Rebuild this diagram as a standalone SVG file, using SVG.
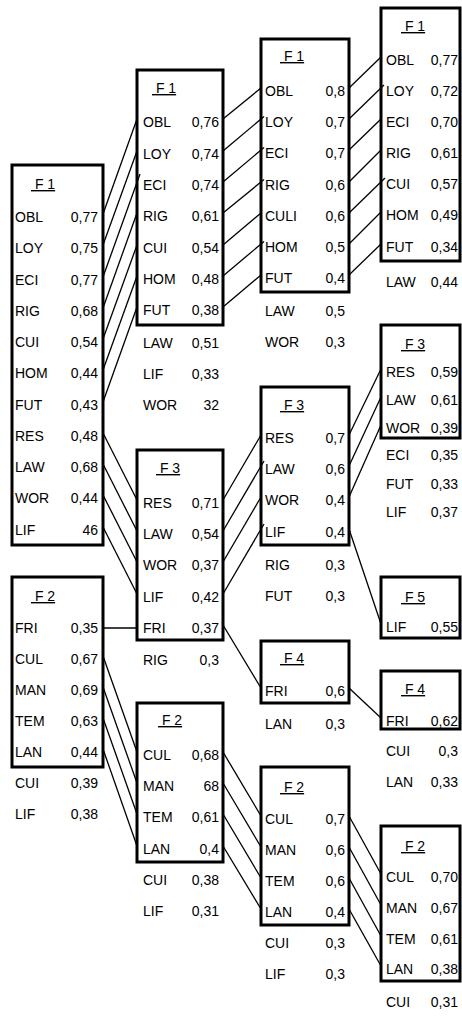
<svg xmlns="http://www.w3.org/2000/svg" width="462" height="1017" viewBox="0 0 462 1017">
<style>
.bg{fill:#fff}
.box{fill:none;stroke:#000;stroke-width:3}
text{font-family:"Liberation Sans",Arial,sans-serif;font-size:14px;fill:#000}
.v{text-anchor:end}
.ttl{text-decoration:underline;white-space:pre}
.conn line{stroke:#000;stroke-width:1.3}
</style>
<rect class="bg" x="0" y="0" width="462" height="1017"/>

<g id="c1-f1">
<rect class="box" x="12" y="165" width="91" height="380"/>
<text class="ttl" x="31" y="189"> F 1</text>
<text x="15" y="222">OBL</text><text class="v" x="98" y="222">0,77</text>
<text x="15" y="253">LOY</text><text class="v" x="98" y="253">0,75</text>
<text x="15" y="285">ECI</text><text class="v" x="98" y="285">0,77</text>
<text x="15" y="316">RIG</text><text class="v" x="98" y="316">0,68</text>
<text x="15" y="347">CUI</text><text class="v" x="98" y="347">0,54</text>
<text x="15" y="378">HOM</text><text class="v" x="98" y="378">0,44</text>
<text x="15" y="410">FUT</text><text class="v" x="98" y="410">0,43</text>
<text x="15" y="441">RES</text><text class="v" x="98" y="441">0,48</text>
<text x="15" y="472">LAW</text><text class="v" x="98" y="472">0,68</text>
<text x="15" y="503">WOR</text><text class="v" x="98" y="503">0,44</text>
<text x="15" y="535">LIF</text><text class="v" x="98" y="535">46</text>
</g>

<g id="c1-f2">
<rect class="box" x="12" y="577" width="91" height="190"/>
<text class="ttl" x="31" y="601"> F 2</text>
<text x="15" y="633">FRI</text><text class="v" x="98" y="633">0,35</text>
<text x="15" y="664">CUL</text><text class="v" x="98" y="664">0,67</text>
<text x="15" y="695">MAN</text><text class="v" x="98" y="695">0,69</text>
<text x="15" y="726">TEM</text><text class="v" x="98" y="726">0,63</text>
<text x="15" y="757">LAN</text><text class="v" x="98" y="757">0,44</text>
<text x="15" y="788">CUI</text><text class="v" x="98" y="788">0,39</text>
<text x="15" y="819">LIF</text><text class="v" x="98" y="819">0,38</text>
</g>

<g id="c2-f1">
<rect class="box" x="137" y="70" width="86" height="255"/>
<text class="ttl" x="152" y="93"> F 1</text>
<text x="143" y="127">OBL</text><text class="v" x="219" y="127">0,76</text>
<text x="143" y="159">LOY</text><text class="v" x="219" y="159">0,74</text>
<text x="143" y="190">ECI</text><text class="v" x="219" y="190">0,74</text>
<text x="143" y="221">RIG</text><text class="v" x="219" y="221">0,61</text>
<text x="143" y="253">CUI</text><text class="v" x="219" y="253">0,54</text>
<text x="143" y="284">HOM</text><text class="v" x="219" y="284">0,48</text>
<text x="143" y="315">FUT</text><text class="v" x="219" y="315">0,38</text>
<text x="143" y="348">LAW</text><text class="v" x="219" y="348">0,51</text>
<text x="143" y="379">LIF</text><text class="v" x="219" y="379">0,33</text>
<text x="143" y="410">WOR</text><text class="v" x="219" y="410">32</text>
</g>

<g id="c2-f3">
<rect class="box" x="137" y="450" width="86" height="190"/>
<text class="ttl" x="156" y="473"> F 3</text>
<text x="143" y="508">RES</text><text class="v" x="219" y="508">0,71</text>
<text x="143" y="539">LAW</text><text class="v" x="219" y="539">0,54</text>
<text x="143" y="570">WOR</text><text class="v" x="219" y="570">0,37</text>
<text x="143" y="602">LIF</text><text class="v" x="219" y="602">0,42</text>
<text x="143" y="633">FRI</text><text class="v" x="219" y="633">0,37</text>
<text x="143" y="665">RIG</text><text class="v" x="219" y="665">0,3</text>
</g>

<g id="c2-f2">
<rect class="box" x="137" y="703" width="86" height="159"/>
<text class="ttl" x="158" y="725"> F 2</text>
<text x="143" y="760">CUL</text><text class="v" x="219" y="760">0,68</text>
<text x="143" y="791">MAN</text><text class="v" x="219" y="791">68</text>
<text x="143" y="822">TEM</text><text class="v" x="219" y="822">0,61</text>
<text x="143" y="854">LAN</text><text class="v" x="219" y="854">0,4</text>
<text x="143" y="885">CUI</text><text class="v" x="219" y="885">0,38</text>
<text x="143" y="916">LIF</text><text class="v" x="219" y="916">0,31</text>
</g>

<g id="c3-f1">
<rect class="box" x="261" y="39" width="88" height="253"/>
<text class="ttl" x="280" y="61"> F 1</text>
<text x="265" y="96">OBL</text><text class="v" x="345" y="96">0,8</text>
<text x="265" y="127">LOY</text><text class="v" x="345" y="127">0,7</text>
<text x="265" y="158">ECI</text><text class="v" x="345" y="158">0,7</text>
<text x="265" y="190">RIG</text><text class="v" x="345" y="190">0,6</text>
<text x="265" y="221">CULI</text><text class="v" x="345" y="221">0,6</text>
<text x="265" y="252">HOM</text><text class="v" x="345" y="252">0,5</text>
<text x="265" y="283">FUT</text><text class="v" x="345" y="283">0,4</text>
<text x="265" y="316">LAW</text><text class="v" x="345" y="316">0,5</text>
<text x="265" y="347">WOR</text><text class="v" x="345" y="347">0,3</text>
</g>

<g id="c3-f3">
<rect class="box" x="261" y="387" width="88" height="158"/>
<text class="ttl" x="280" y="410"> F 3</text>
<text x="265" y="443">RES</text><text class="v" x="345" y="443">0,7</text>
<text x="265" y="474">LAW</text><text class="v" x="345" y="474">0,6</text>
<text x="265" y="505">WOR</text><text class="v" x="345" y="505">0,4</text>
<text x="265" y="537">LIF</text><text class="v" x="345" y="537">0,4</text>
<text x="265" y="570">RIG</text><text class="v" x="345" y="570">0,3</text>
<text x="265" y="601">FUT</text><text class="v" x="345" y="601">0,3</text>
</g>

<g id="c3-f4">
<rect class="box" x="261" y="641" width="88" height="62"/>
<text class="ttl" x="280" y="663"> F 4</text>
<text x="265" y="696">FRI</text><text class="v" x="345" y="696">0,6</text>
<text x="265" y="729">LAN</text><text class="v" x="345" y="729">0,3</text>
</g>

<g id="c3-f2">
<rect class="box" x="261" y="767" width="88" height="158"/>
<text class="ttl" x="280" y="792"> F 2</text>
<text x="265" y="824">CUL</text><text class="v" x="345" y="824">0,7</text>
<text x="265" y="855">MAN</text><text class="v" x="345" y="855">0,6</text>
<text x="265" y="886">TEM</text><text class="v" x="345" y="886">0,6</text>
<text x="265" y="917">LAN</text><text class="v" x="345" y="917">0,4</text>
<text x="265" y="948">CUI</text><text class="v" x="345" y="948">0,3</text>
<text x="265" y="979">LIF</text><text class="v" x="345" y="979">0,3</text>
</g>

<g id="c4-f1">
<rect class="box" x="381" y="8" width="79" height="253"/>
<text class="ttl" x="401" y="31"> F 1</text>
<text x="386" y="65">OBL</text><text class="v" x="458" y="65">0,77</text>
<text x="386" y="96">LOY</text><text class="v" x="458" y="96">0,72</text>
<text x="386" y="127">ECI</text><text class="v" x="458" y="127">0,70</text>
<text x="386" y="158">RIG</text><text class="v" x="458" y="158">0,61</text>
<text x="386" y="189">CUI</text><text class="v" x="458" y="189">0,57</text>
<text x="386" y="220">HOM</text><text class="v" x="458" y="220">0,49</text>
<text x="386" y="252">FUT</text><text class="v" x="458" y="252">0,34</text>
<text x="386" y="287">LAW</text><text class="v" x="458" y="287">0,44</text>
</g>

<g id="c4-f3">
<rect class="box" x="381" y="325" width="79" height="113"/>
<text class="ttl" x="401" y="349"> F 3</text>
<text x="386" y="377">RES</text><text class="v" x="458" y="377">0,59</text>
<text x="386" y="405">LAW</text><text class="v" x="458" y="405">0,61</text>
<text x="386" y="433">WOR</text><text class="v" x="458" y="433">0,39</text>
<text x="386" y="460">ECI</text><text class="v" x="458" y="460">0,35</text>
<text x="386" y="489">FUT</text><text class="v" x="458" y="489">0,33</text>
<text x="386" y="517">LIF</text><text class="v" x="458" y="517">0,37</text>
</g>

<g id="c4-f5">
<rect class="box" x="381" y="577" width="79" height="61"/>
<text class="ttl" x="401" y="602"> F 5</text>
<text x="386" y="632">LIF</text><text class="v" x="458" y="632">0,55</text>
</g>

<g id="c4-f4">
<rect class="box" x="381" y="671" width="79" height="58"/>
<text class="ttl" x="401" y="694"> F 4</text>
<text x="386" y="726">FRI</text><text class="v" x="458" y="726">0,62</text>
<text x="386" y="756">CUI</text><text class="v" x="458" y="756">0,3</text>
<text x="386" y="787">LAN</text><text class="v" x="458" y="787">0,33</text>
</g>

<g id="c4-f2">
<rect class="box" x="381" y="826" width="79" height="155"/>
<text class="ttl" x="401" y="851"> F 2</text>
<text x="386" y="882">CUL</text><text class="v" x="458" y="882">0,70</text>
<text x="386" y="913">MAN</text><text class="v" x="458" y="913">0,67</text>
<text x="386" y="944">TEM</text><text class="v" x="458" y="944">0,61</text>
<text x="386" y="974">LAN</text><text class="v" x="458" y="974">0,38</text>
<text x="386" y="1007">CUI</text><text class="v" x="458" y="1007">0,31</text>
</g>

<g id="connectors" class="conn">
<line x1="103" y1="214" x2="137" y2="119"/>
<line x1="103" y1="245" x2="137" y2="151"/>
<line x1="103" y1="277" x2="140" y2="174"/>
<line x1="103" y1="308" x2="137" y2="213"/>
<line x1="103" y1="339" x2="137" y2="245"/>
<line x1="103" y1="370" x2="137" y2="276"/>
<line x1="103" y1="402" x2="137" y2="307"/>
<line x1="103" y1="433" x2="137" y2="500"/>
<line x1="103" y1="464" x2="137" y2="531"/>
<line x1="103" y1="495" x2="137" y2="562"/>
<line x1="103" y1="527" x2="137" y2="594"/>
<line x1="103" y1="628" x2="137" y2="628"/>
<line x1="103" y1="656" x2="137" y2="752"/>
<line x1="103" y1="687" x2="137" y2="783"/>
<line x1="103" y1="718" x2="137" y2="814"/>
<line x1="103" y1="749" x2="137" y2="846"/>

<line x1="223" y1="119" x2="261" y2="88"/>
<line x1="223" y1="151" x2="264" y2="116.5"/>
<line x1="223" y1="182" x2="264" y2="147.5"/>
<line x1="223" y1="213" x2="264" y2="179.5"/>
<line x1="223" y1="245" x2="261" y2="213"/>
<line x1="223" y1="276" x2="264" y2="241.5"/>
<line x1="223" y1="307" x2="261" y2="275"/>
<line x1="223" y1="500" x2="261" y2="435"/>
<line x1="223" y1="531" x2="264" y2="461"/>
<line x1="223" y1="562" x2="261" y2="497"/>
<line x1="223" y1="594" x2="264" y2="524"/>
<line x1="223" y1="625" x2="261" y2="688"/>
<line x1="223" y1="752" x2="261" y2="816"/>
<line x1="223" y1="783" x2="261" y2="847"/>
<line x1="223" y1="814" x2="261" y2="878"/>
<line x1="223" y1="846" x2="261" y2="909"/>

<line x1="349" y1="88" x2="381" y2="57"/>
<line x1="349" y1="119" x2="384" y2="85"/>
<line x1="349" y1="150" x2="381" y2="119"/>
<line x1="349" y1="182" x2="381" y2="150"/>
<line x1="349" y1="213" x2="385" y2="178"/>
<line x1="349" y1="244" x2="381" y2="212"/>
<line x1="349" y1="275" x2="381" y2="244"/>
<line x1="349" y1="435" x2="381" y2="369"/>
<line x1="349" y1="466" x2="381" y2="397"/>
<line x1="349" y1="497" x2="381" y2="425"/>
<line x1="349" y1="529" x2="381" y2="624"/>
<line x1="349" y1="688" x2="381" y2="718"/>
<line x1="349" y1="816" x2="381" y2="874"/>
<line x1="349" y1="847" x2="381" y2="905"/>
<line x1="349" y1="878" x2="381" y2="936"/>
<line x1="349" y1="909" x2="381" y2="966"/>
</g>
</svg>
